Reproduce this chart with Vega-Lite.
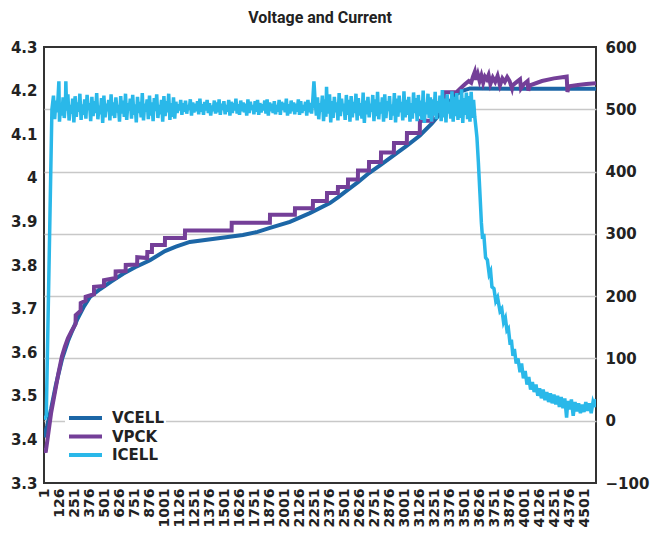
{
  "$schema": "https://vega.github.io/schema/vega-lite/v6.json",
  "width": 552,
  "height": 436,
  "autosize": {"type": "none"},
  "padding": {"left": 44, "top": 47, "right": 55, "bottom": 64},
  "background": "white",
  "title": {"text": "Voltage and Current", "font": "Roboto", "fontSize": 16, "fontWeight": "bold", "color": "#222222", "anchor": "middle", "offset": 14},
  "config": {
    "view": {"stroke": "#333333", "strokeWidth": 2},
    "axis": {"labelFont": "DejaVu Sans", "labelFontSize": 15, "labelFontWeight": "bold", "labelColor": "#222222", "ticks": false, "domain": false, "title": null},
    "axisX": {"labelOverlap": false, "labelFontSize": 14}
  },
  "encoding": {
    "x": {"field": "i", "type": "quantitative", "scale": {"domain": [1, 4600], "nice": false, "zero": false},
      "axis": {"values": [1, 126, 251, 376, 501, 626, 751, 876, 1001, 1126, 1251, 1376, 1501, 1626, 1751, 1876, 2001, 2126, 2251, 2376, 2501, 2626, 2751, 2876, 3001, 3126, 3251, 3376, 3501, 3626, 3751, 3876, 4001, 4126, 4251, 4376, 4501],
        "format": "d", "labelAngle": 270, "labelOverlap": false, "labelSeparation": 0, "labelFlush": false, "labelBound": false, "grid": false, "labelPadding": 5}}
  },
  "datasets": {
    "vcell": [
      {"i": 1, "v": 3.405}, {"i": 26, "v": 3.43}, {"i": 60, "v": 3.47}, {"i": 100, "v": 3.525}, {"i": 153, "v": 3.586},
      {"i": 200, "v": 3.625}, {"i": 230, "v": 3.645}, {"i": 276, "v": 3.674}, {"i": 330, "v": 3.703}, {"i": 384, "v": 3.727},
      {"i": 470, "v": 3.745}, {"i": 560, "v": 3.762}, {"i": 660, "v": 3.78}, {"i": 760, "v": 3.795}, {"i": 884, "v": 3.811},
      {"i": 1009, "v": 3.832}, {"i": 1100, "v": 3.842}, {"i": 1216, "v": 3.853}, {"i": 1438, "v": 3.861}, {"i": 1658, "v": 3.869},
      {"i": 1780, "v": 3.876}, {"i": 1884, "v": 3.885}, {"i": 2050, "v": 3.899}, {"i": 2216, "v": 3.919}, {"i": 2383, "v": 3.942},
      {"i": 2450, "v": 3.955}, {"i": 2534, "v": 3.973}, {"i": 2617, "v": 3.99}, {"i": 2709, "v": 4.011}, {"i": 2809, "v": 4.03},
      {"i": 2917, "v": 4.052}, {"i": 3025, "v": 4.074}, {"i": 3133, "v": 4.097}, {"i": 3233, "v": 4.125}, {"i": 3334, "v": 4.158},
      {"i": 3425, "v": 4.19}, {"i": 3492, "v": 4.2}, {"i": 3550, "v": 4.205}, {"i": 4000, "v": 4.204}, {"i": 4600, "v": 4.204}
    ],
    "vpck": [
      {"i": 1, "v": 3.38}, {"i": 15, "v": 3.37}, {"i": 30, "v": 3.4}, {"i": 60, "v": 3.46}, {"i": 90, "v": 3.505},
      {"i": 120, "v": 3.55}, {"i": 150, "v": 3.59}, {"i": 175, "v": 3.613}, {"i": 200, "v": 3.632}, {"i": 230, "v": 3.648},
      {"i": 264, "v": 3.665}, {"i": 265, "v": 3.685}, {"i": 306, "v": 3.695}, {"i": 307, "v": 3.713}, {"i": 347, "v": 3.718},
      {"i": 348, "v": 3.727}, {"i": 417, "v": 3.733}, {"i": 418, "v": 3.75}, {"i": 500, "v": 3.752}, {"i": 501, "v": 3.765},
      {"i": 597, "v": 3.77}, {"i": 598, "v": 3.785}, {"i": 681, "v": 3.786}, {"i": 682, "v": 3.8}, {"i": 777, "v": 3.801},
      {"i": 778, "v": 3.818}, {"i": 861, "v": 3.816}, {"i": 862, "v": 3.83}, {"i": 900, "v": 3.83}, {"i": 901, "v": 3.846},
      {"i": 1008, "v": 3.846}, {"i": 1009, "v": 3.862}, {"i": 1175, "v": 3.862}, {"i": 1176, "v": 3.879}, {"i": 1564, "v": 3.879},
      {"i": 1565, "v": 3.897}, {"i": 1883, "v": 3.897}, {"i": 1884, "v": 3.915}, {"i": 2091, "v": 3.915}, {"i": 2092, "v": 3.93},
      {"i": 2241, "v": 3.93}, {"i": 2242, "v": 3.947}, {"i": 2358, "v": 3.947}, {"i": 2359, "v": 3.965}, {"i": 2449, "v": 3.965},
      {"i": 2450, "v": 3.979}, {"i": 2533, "v": 3.979}, {"i": 2534, "v": 3.996}, {"i": 2616, "v": 3.996}, {"i": 2617, "v": 4.017},
      {"i": 2708, "v": 4.017}, {"i": 2709, "v": 4.036}, {"i": 2808, "v": 4.036}, {"i": 2809, "v": 4.058}, {"i": 2916, "v": 4.058},
      {"i": 2917, "v": 4.08}, {"i": 3024, "v": 4.08}, {"i": 3025, "v": 4.103}, {"i": 3132, "v": 4.103}, {"i": 3133, "v": 4.131},
      {"i": 3232, "v": 4.131}, {"i": 3233, "v": 4.164}, {"i": 3333, "v": 4.164}, {"i": 3334, "v": 4.196}, {"i": 3424, "v": 4.196},
      {"i": 3440, "v": 4.197}, {"i": 3470, "v": 4.205}, {"i": 3510, "v": 4.215}, {"i": 3540, "v": 4.222}, {"i": 3560, "v": 4.218},
      {"i": 3575, "v": 4.232}, {"i": 3590, "v": 4.243}, {"i": 3600, "v": 4.225}, {"i": 3615, "v": 4.238}, {"i": 3630, "v": 4.222},
      {"i": 3645, "v": 4.235}, {"i": 3660, "v": 4.218}, {"i": 3675, "v": 4.232}, {"i": 3690, "v": 4.226}, {"i": 3705, "v": 4.236},
      {"i": 3720, "v": 4.215}, {"i": 3740, "v": 4.23}, {"i": 3760, "v": 4.22}, {"i": 3780, "v": 4.234}, {"i": 3800, "v": 4.212},
      {"i": 3820, "v": 4.228}, {"i": 3840, "v": 4.22}, {"i": 3860, "v": 4.231}, {"i": 3880, "v": 4.222}, {"i": 3900, "v": 4.205},
      {"i": 3905, "v": 4.212}, {"i": 3940, "v": 4.22}, {"i": 3967, "v": 4.226}, {"i": 3975, "v": 4.205}, {"i": 4000, "v": 4.215},
      {"i": 4030, "v": 4.222}, {"i": 4036, "v": 4.2}, {"i": 4050, "v": 4.212}, {"i": 4150, "v": 4.222}, {"i": 4250, "v": 4.228},
      {"i": 4356, "v": 4.232}, {"i": 4362, "v": 4.197}, {"i": 4375, "v": 4.21}, {"i": 4450, "v": 4.213}, {"i": 4520, "v": 4.215},
      {"i": 4600, "v": 4.217}
    ],
    "icell": [
      {"i": 1, "v": 2}, {"i": 20, "v": 8}, {"i": 67, "v": 500},
      {"i": 80, "v": 522}, {"i": 90, "v": 484}, {"i": 100, "v": 514}, {"i": 110, "v": 495}, {"i": 120, "v": 526}, {"i": 125, "v": 545}, {"i": 130, "v": 480},
      {"i": 140, "v": 509}, {"i": 150, "v": 490}, {"i": 160, "v": 519}, {"i": 170, "v": 486}, {"i": 180, "v": 512}, {"i": 183, "v": 545}, {"i": 190, "v": 498},
      {"i": 200, "v": 524}, {"i": 210, "v": 482}, {"i": 220, "v": 507}, {"i": 230, "v": 493}, {"i": 240, "v": 517}, {"i": 250, "v": 479},
      {"i": 260, "v": 521}, {"i": 270, "v": 488}, {"i": 280, "v": 511}, {"i": 290, "v": 496}, {"i": 300, "v": 525}, {"i": 310, "v": 483},
      {"i": 320, "v": 508}, {"i": 330, "v": 491}, {"i": 340, "v": 516}, {"i": 350, "v": 485}, {"i": 360, "v": 523}, {"i": 370, "v": 499},
      {"i": 380, "v": 510}, {"i": 390, "v": 481}, {"i": 400, "v": 520}, {"i": 410, "v": 489}, {"i": 420, "v": 513}, {"i": 430, "v": 494},
      {"i": 440, "v": 526}, {"i": 450, "v": 484}, {"i": 460, "v": 506}, {"i": 470, "v": 492}, {"i": 480, "v": 518}, {"i": 490, "v": 478},
      {"i": 500, "v": 522}, {"i": 510, "v": 487}, {"i": 520, "v": 509}, {"i": 530, "v": 497}, {"i": 540, "v": 515}, {"i": 550, "v": 482},
      {"i": 560, "v": 524}, {"i": 570, "v": 490}, {"i": 580, "v": 511}, {"i": 590, "v": 486}, {"i": 600, "v": 519}, {"i": 610, "v": 495},
      {"i": 620, "v": 507}, {"i": 630, "v": 480}, {"i": 640, "v": 521}, {"i": 650, "v": 493}, {"i": 660, "v": 514}, {"i": 670, "v": 488},
      {"i": 680, "v": 525}, {"i": 690, "v": 483}, {"i": 700, "v": 510}, {"i": 710, "v": 498}, {"i": 720, "v": 517}, {"i": 730, "v": 485},
      {"i": 740, "v": 523}, {"i": 750, "v": 491}, {"i": 760, "v": 508}, {"i": 770, "v": 479}, {"i": 780, "v": 520}, {"i": 790, "v": 494},
      {"i": 800, "v": 512}, {"i": 810, "v": 487}, {"i": 820, "v": 526}, {"i": 830, "v": 482}, {"i": 840, "v": 509}, {"i": 850, "v": 496},
      {"i": 860, "v": 516}, {"i": 870, "v": 484}, {"i": 880, "v": 522}, {"i": 890, "v": 490}, {"i": 900, "v": 511}, {"i": 910, "v": 481},
      {"i": 920, "v": 518}, {"i": 930, "v": 497}, {"i": 940, "v": 524}, {"i": 950, "v": 486}, {"i": 960, "v": 507}, {"i": 970, "v": 492},
      {"i": 980, "v": 515}, {"i": 990, "v": 480}, {"i": 1000, "v": 521}, {"i": 1010, "v": 489}, {"i": 1020, "v": 513}, {"i": 1030, "v": 495},
      {"i": 1040, "v": 525}, {"i": 1050, "v": 483}, {"i": 1060, "v": 510}, {"i": 1070, "v": 488}, {"i": 1080, "v": 519}, {"i": 1090, "v": 485},
      {"i": 1100, "v": 512}, {"i": 1110, "v": 494}, {"i": 1120, "v": 508}, {"i": 1130, "v": 498}, {"i": 1140, "v": 515}, {"i": 1150, "v": 491},
      {"i": 1160, "v": 510}, {"i": 1170, "v": 496}, {"i": 1180, "v": 514}, {"i": 1190, "v": 493}, {"i": 1200, "v": 507}, {"i": 1210, "v": 499},
      {"i": 1220, "v": 516}, {"i": 1230, "v": 490}, {"i": 1240, "v": 511}, {"i": 1250, "v": 495}, {"i": 1260, "v": 509}, {"i": 1270, "v": 497},
      {"i": 1280, "v": 513}, {"i": 1290, "v": 492}, {"i": 1300, "v": 517}, {"i": 1310, "v": 496}, {"i": 1320, "v": 508}, {"i": 1330, "v": 491},
      {"i": 1340, "v": 512}, {"i": 1350, "v": 498}, {"i": 1360, "v": 515}, {"i": 1370, "v": 494}, {"i": 1380, "v": 510}, {"i": 1390, "v": 490},
      {"i": 1400, "v": 506}, {"i": 1410, "v": 497}, {"i": 1420, "v": 514}, {"i": 1430, "v": 493}, {"i": 1440, "v": 511}, {"i": 1450, "v": 495},
      {"i": 1460, "v": 516}, {"i": 1470, "v": 491}, {"i": 1480, "v": 509}, {"i": 1490, "v": 499}, {"i": 1500, "v": 513}, {"i": 1510, "v": 492},
      {"i": 1520, "v": 507}, {"i": 1530, "v": 496}, {"i": 1540, "v": 515}, {"i": 1550, "v": 490}, {"i": 1560, "v": 512}, {"i": 1570, "v": 494},
      {"i": 1580, "v": 510}, {"i": 1590, "v": 498}, {"i": 1600, "v": 517}, {"i": 1610, "v": 493}, {"i": 1620, "v": 508}, {"i": 1630, "v": 491},
      {"i": 1640, "v": 514}, {"i": 1650, "v": 497}, {"i": 1660, "v": 511}, {"i": 1670, "v": 495}, {"i": 1680, "v": 509}, {"i": 1690, "v": 490},
      {"i": 1700, "v": 516}, {"i": 1710, "v": 494}, {"i": 1720, "v": 512}, {"i": 1730, "v": 499}, {"i": 1740, "v": 507}, {"i": 1750, "v": 492},
      {"i": 1760, "v": 513}, {"i": 1770, "v": 496}, {"i": 1780, "v": 515}, {"i": 1790, "v": 491}, {"i": 1800, "v": 510}, {"i": 1810, "v": 495},
      {"i": 1820, "v": 508}, {"i": 1830, "v": 498}, {"i": 1840, "v": 514}, {"i": 1850, "v": 493}, {"i": 1860, "v": 516}, {"i": 1870, "v": 490},
      {"i": 1880, "v": 511}, {"i": 1890, "v": 497}, {"i": 1900, "v": 509}, {"i": 1910, "v": 494}, {"i": 1920, "v": 513}, {"i": 1930, "v": 492},
      {"i": 1940, "v": 507}, {"i": 1950, "v": 496}, {"i": 1960, "v": 515}, {"i": 1970, "v": 491}, {"i": 1980, "v": 512}, {"i": 1990, "v": 499},
      {"i": 2000, "v": 510}, {"i": 2010, "v": 495}, {"i": 2020, "v": 517}, {"i": 2030, "v": 490}, {"i": 2040, "v": 508}, {"i": 2050, "v": 493},
      {"i": 2060, "v": 514}, {"i": 2070, "v": 497}, {"i": 2080, "v": 511}, {"i": 2090, "v": 492}, {"i": 2100, "v": 509}, {"i": 2110, "v": 496},
      {"i": 2120, "v": 516}, {"i": 2130, "v": 491}, {"i": 2140, "v": 513}, {"i": 2150, "v": 494}, {"i": 2160, "v": 507}, {"i": 2170, "v": 498},
      {"i": 2180, "v": 512}, {"i": 2190, "v": 490}, {"i": 2200, "v": 515}, {"i": 2210, "v": 495}, {"i": 2220, "v": 510}, {"i": 2230, "v": 493},
      {"i": 2240, "v": 514}, {"i": 2250, "v": 545},
      {"i": 2260, "v": 514}, {"i": 2270, "v": 490}, {"i": 2280, "v": 519}, {"i": 2290, "v": 484}, {"i": 2300, "v": 510}, {"i": 2310, "v": 496},
      {"i": 2320, "v": 522}, {"i": 2330, "v": 481}, {"i": 2340, "v": 516}, {"i": 2350, "v": 488}, {"i": 2355, "v": 536}, {"i": 2360, "v": 508}, {"i": 2370, "v": 493},
      {"i": 2380, "v": 524}, {"i": 2390, "v": 479}, {"i": 2400, "v": 513}, {"i": 2410, "v": 486}, {"i": 2420, "v": 520}, {"i": 2430, "v": 495},
      {"i": 2440, "v": 511}, {"i": 2450, "v": 482}, {"i": 2460, "v": 526}, {"i": 2470, "v": 489}, {"i": 2480, "v": 517}, {"i": 2490, "v": 497},
      {"i": 2500, "v": 509}, {"i": 2510, "v": 483}, {"i": 2520, "v": 523}, {"i": 2530, "v": 491}, {"i": 2540, "v": 515}, {"i": 2550, "v": 480},
      {"i": 2560, "v": 521}, {"i": 2570, "v": 487}, {"i": 2580, "v": 512}, {"i": 2590, "v": 494}, {"i": 2600, "v": 525}, {"i": 2610, "v": 482},
      {"i": 2620, "v": 518}, {"i": 2630, "v": 490}, {"i": 2640, "v": 510}, {"i": 2650, "v": 485}, {"i": 2660, "v": 527}, {"i": 2670, "v": 478},
      {"i": 2680, "v": 514}, {"i": 2690, "v": 492}, {"i": 2700, "v": 520}, {"i": 2710, "v": 487}, {"i": 2720, "v": 509}, {"i": 2730, "v": 496},
      {"i": 2740, "v": 523}, {"i": 2750, "v": 481}, {"i": 2760, "v": 516}, {"i": 2770, "v": 489}, {"i": 2780, "v": 528}, {"i": 2790, "v": 484},
      {"i": 2800, "v": 511}, {"i": 2810, "v": 493}, {"i": 2820, "v": 519}, {"i": 2830, "v": 480}, {"i": 2840, "v": 524}, {"i": 2850, "v": 486},
      {"i": 2860, "v": 513}, {"i": 2870, "v": 497}, {"i": 2880, "v": 521}, {"i": 2890, "v": 483}, {"i": 2900, "v": 508}, {"i": 2910, "v": 490},
      {"i": 2920, "v": 526}, {"i": 2930, "v": 479}, {"i": 2940, "v": 517}, {"i": 2950, "v": 488}, {"i": 2960, "v": 522}, {"i": 2970, "v": 495},
      {"i": 2980, "v": 512}, {"i": 2990, "v": 482}, {"i": 3000, "v": 529}, {"i": 3010, "v": 487}, {"i": 3020, "v": 515}, {"i": 3030, "v": 491},
      {"i": 3040, "v": 520}, {"i": 3050, "v": 480}, {"i": 3060, "v": 510}, {"i": 3070, "v": 485}, {"i": 3080, "v": 527}, {"i": 3090, "v": 494},
      {"i": 3100, "v": 518}, {"i": 3110, "v": 481}, {"i": 3120, "v": 523}, {"i": 3130, "v": 489}, {"i": 3140, "v": 514}, {"i": 3150, "v": 483},
      {"i": 3160, "v": 530}, {"i": 3170, "v": 478}, {"i": 3180, "v": 511}, {"i": 3190, "v": 492}, {"i": 3200, "v": 525}, {"i": 3210, "v": 486},
      {"i": 3220, "v": 519}, {"i": 3230, "v": 480}, {"i": 3240, "v": 516}, {"i": 3250, "v": 490}, {"i": 3260, "v": 528}, {"i": 3270, "v": 484},
      {"i": 3280, "v": 513}, {"i": 3290, "v": 495}, {"i": 3300, "v": 522}, {"i": 3310, "v": 481}, {"i": 3320, "v": 531}, {"i": 3330, "v": 487},
      {"i": 3340, "v": 517}, {"i": 3350, "v": 479}, {"i": 3360, "v": 524}, {"i": 3370, "v": 493}, {"i": 3380, "v": 512}, {"i": 3390, "v": 485},
      {"i": 3400, "v": 529}, {"i": 3410, "v": 480}, {"i": 3420, "v": 520}, {"i": 3430, "v": 489}, {"i": 3440, "v": 526}, {"i": 3450, "v": 483},
      {"i": 3460, "v": 515}, {"i": 3470, "v": 486}, {"i": 3480, "v": 532}, {"i": 3490, "v": 478}, {"i": 3500, "v": 518}, {"i": 3510, "v": 491},
      {"i": 3520, "v": 527}, {"i": 3530, "v": 484}, {"i": 3540, "v": 521}, {"i": 3550, "v": 480}, {"i": 3560, "v": 528}, {"i": 3570, "v": 486},
      {"i": 3580, "v": 515}, {"i": 3590, "v": 488}, {"i": 3600, "v": 470}, {"i": 3608, "v": 455},
      {"i": 3620, "v": 415}, {"i": 3633, "v": 365}, {"i": 3645, "v": 318}, {"i": 3655, "v": 292}, {"i": 3665, "v": 300},
      {"i": 3680, "v": 262}, {"i": 3695, "v": 258}, {"i": 3710, "v": 235}, {"i": 3722, "v": 240}, {"i": 3733, "v": 215},
      {"i": 3750, "v": 212}, {"i": 3765, "v": 192}, {"i": 3780, "v": 198}, {"i": 3800, "v": 176}, {"i": 3815, "v": 180},
      {"i": 3830, "v": 158}, {"i": 3845, "v": 165}, {"i": 3858, "v": 145}, {"i": 3870, "v": 148}, {"i": 3885, "v": 122},
      {"i": 3895, "v": 130}, {"i": 3908, "v": 104}, {"i": 3920, "v": 115}, {"i": 3935, "v": 92}, {"i": 3950, "v": 100},
      {"i": 3967, "v": 78}, {"i": 3980, "v": 92}, {"i": 3995, "v": 68}, {"i": 4010, "v": 80}, {"i": 4025, "v": 58},
      {"i": 4040, "v": 70}, {"i": 4055, "v": 50}, {"i": 4070, "v": 62}, {"i": 4085, "v": 46}, {"i": 4100, "v": 58},
      {"i": 4115, "v": 40}, {"i": 4130, "v": 52}, {"i": 4145, "v": 36}, {"i": 4160, "v": 50}, {"i": 4175, "v": 33},
      {"i": 4190, "v": 46}, {"i": 4205, "v": 30}, {"i": 4220, "v": 44}, {"i": 4235, "v": 28}, {"i": 4250, "v": 42},
      {"i": 4265, "v": 26}, {"i": 4280, "v": 40}, {"i": 4295, "v": 22}, {"i": 4310, "v": 38}, {"i": 4325, "v": 20},
      {"i": 4340, "v": 36}, {"i": 4355, "v": 5}, {"i": 4365, "v": 32}, {"i": 4380, "v": 18}, {"i": 4395, "v": 34},
      {"i": 4410, "v": 8}, {"i": 4425, "v": 30}, {"i": 4440, "v": 15}, {"i": 4455, "v": 28}, {"i": 4470, "v": 12},
      {"i": 4485, "v": 26}, {"i": 4500, "v": 14}, {"i": 4515, "v": 30}, {"i": 4530, "v": 16}, {"i": 4545, "v": 28},
      {"i": 4560, "v": 12}, {"i": 4575, "v": 30}, {"i": 4590, "v": 22}, {"i": 4600, "v": 35}
    ]
  },
  "layer": [
    {
      "layer": [
        {
          "data": {"name": "vcell"},
          "mark": {"type": "line", "strokeWidth": 4, "clip": true},
          "encoding": {
            "y": {"field": "v", "type": "quantitative", "scale": {"domain": [3.3, 4.3], "nice": false, "zero": false},
              "axis": {"values": [3.3, 3.4, 3.5, 3.6, 3.7, 3.8, 3.9, 4.0, 4.1, 4.2, 4.3], "format": "~g", "grid": false, "labelPadding": 7}},
            "color": {"datum": "VCELL", "type": "nominal",
              "scale": {"domain": ["VCELL", "VPCK", "ICELL"], "range": ["#1c66a6", "#743f98", "#2ab8e9"]},
              "legend": {"orient": "none", "legendX": 21, "legendY": 361, "title": null, "symbolType": "stroke", "symbolSize": 1089, "symbolStrokeWidth": 4,
                "labelFont": "DejaVu Sans", "labelFontSize": 15, "labelFontWeight": "bold", "labelColor": "#222222", "labelOffset": 8,
                "clipHeight": 16, "rowPadding": 2.5, "padding": 2, "fillColor": "white"}}
          }
        },
        {
          "data": {"name": "vpck"},
          "mark": {"type": "line", "strokeWidth": 4, "clip": true},
          "encoding": {
            "y": {"field": "v", "type": "quantitative"},
            "color": {"datum": "VPCK", "type": "nominal"}
          }
        }
      ]
    },
    {
      "data": {"name": "icell"},
      "mark": {"type": "line", "strokeWidth": 3.5, "clip": true},
      "encoding": {
        "y": {"field": "v", "type": "quantitative", "scale": {"domain": [-100, 600], "nice": false, "zero": false},
          "axis": {"orient": "right", "values": [-100, 0, 100, 200, 300, 400, 500, 600], "format": "d", "grid": true, "gridColor": "#c8c8c8", "gridWidth": 1.5,
            "gridOpacity": {"condition": {"test": "datum.value == -100 || datum.value == 600", "value": 0}, "value": 1},
            "labelPadding": 9}},
        "color": {"datum": "ICELL", "type": "nominal"}
      }
    }
  ],
  "resolve": {"scale": {"y": "independent"}}
}
